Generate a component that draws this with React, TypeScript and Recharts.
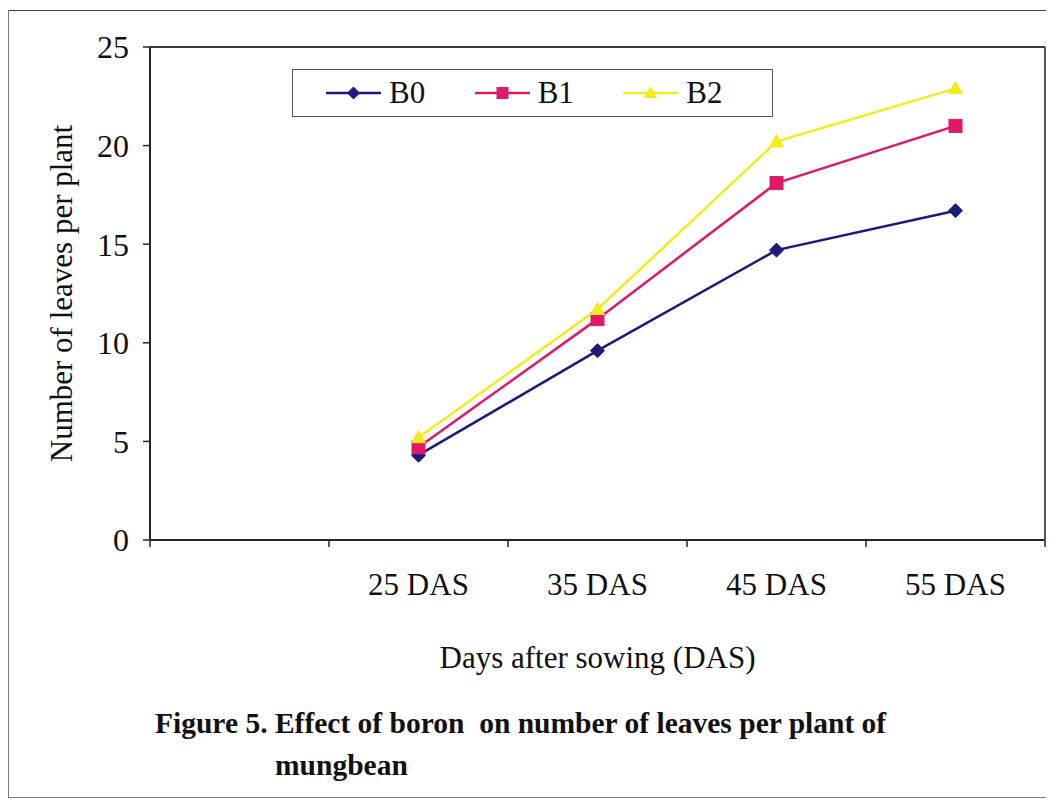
import React from 'react';
import { LineChart, Line, XAxis, YAxis, Legend } from 'recharts';

// leaves per plant for each boron level, by sampling date
const categories = ['', '25 DAS', '35 DAS', '45 DAS', '55 DAS'];
const b0Values = [null, 4.3, 9.6, 14.7, 16.7];
const b1Values = [null, 4.7, 11.2, 18.1, 21.0];
const b2Values = [null, 5.2, 11.7, 20.2, 22.9];
const yTicks = [0, 5, 10, 15, 20, 25];

const series = [
  { key: 'B0', color: '#1c1a7c', shape: 'diamond' },
  { key: 'B1', color: '#e0186a', shape: 'square' },
  { key: 'B2', color: '#f3eb1d', shape: 'triangle' },
];

const data = categories.map((name, i) => ({
  name,
  B0: b0Values[i],
  B1: b1Values[i],
  B2: b2Values[i],
}));

const FONT = "'Liberation Serif', 'Times New Roman', serif";
const AXIS_COLOR = '#2b2226';

const CHART_W = 1040;
const CHART_H = 680;
const MARGIN = { top: 35, right: 3, bottom: 0, left: 0 };
const Y_AXIS_W = 141;
const X_AXIS_H = 151;
const PLOT_W = CHART_W - MARGIN.left - MARGIN.right - Y_AXIS_W - 1;
const BAND = PLOT_W / categories.length;
const TICK_SIZE = 7;
const X_TICK_MARGIN = 26;

function Marker({ shape, color, cx, cy, size = 7 }: any) {
  if (shape === 'diamond') {
    return (
      <path
        d={`M${cx},${cy - size} L${cx + size},${cy} L${cx},${cy + size} L${cx - size},${cy} Z`}
        fill={color}
        stroke={color}
      />
    );
  }
  if (shape === 'square') {
    const s = size - 0.5;
    return <rect x={cx - s} y={cy - s} width={s * 2} height={s * 2} fill={color} stroke={color} />;
  }
  return (
    <path
      d={`M${cx},${cy - size} L${cx + size},${cy + size * 0.75} L${cx - size},${cy + size * 0.75} Z`}
      fill={color}
      stroke={color}
    />
  );
}

function makeDot(shape: string, color: string) {
  return (props: any) => {
    const { cx, cy, index } = props;
    if (cx == null || cy == null) return <g key={`d-${index}`} />;
    return <Marker key={`d-${index}`} shape={shape} color={color} cx={cx} cy={cy} />;
  };
}

// label sits in the middle of the category, tick marks on the boundaries
function CategoryTick(props: any) {
  const { x, y, payload, index } = props;
  const axisY = y - TICK_SIZE - X_TICK_MARGIN;
  const left = x - BAND / 2;
  const last = index === categories.length - 1;
  return (
    <g>
      <line x1={left} y1={axisY} x2={left} y2={axisY + TICK_SIZE} stroke={AXIS_COLOR} strokeWidth={1.5} />
      {last && (
        <line x1={left + BAND} y1={axisY} x2={left + BAND} y2={axisY + TICK_SIZE} stroke={AXIS_COLOR} strokeWidth={1.5} />
      )}
      <text x={x} y={y} dy="0.71em" textAnchor="middle" fontFamily={FONT} fontSize={31} fill="#111">
        {payload.value}
      </text>
    </g>
  );
}

function LegendBox() {
  return (
    <div
      style={{
        boxSizing: 'border-box',
        width: '100%',
        height: '100%',
        border: '1px solid #555',
        background: '#fff',
        display: 'flex',
        alignItems: 'center',
        paddingLeft: 33,
        fontFamily: FONT,
        fontSize: 31,
        color: '#111',
      }}
    >
      {series.map((s) => (
        <div key={s.key} style={{ width: 160, display: 'flex', alignItems: 'center' }}>
          <svg width={55} height={20} style={{ marginRight: 8 }}>
            <line x1={0} y1={10} x2={55} y2={10} stroke={s.color} strokeWidth={2.5} />
            <Marker shape={s.shape} color={s.color} cx={27.5} cy={10} size={6} />
          </svg>
          <span>{s.key}</span>
        </div>
      ))}
    </div>
  );
}

export default function App() {
  return (
    <div
      style={{
        marginTop: 2,
        width: CHART_W,
        height: 786,
        border: '1px solid #7a7a7a',
        borderTopColor: '#444',
        background: '#fff',
        fontFamily: FONT,
      }}
    >
      <LineChart width={CHART_W} height={CHART_H} data={data} margin={MARGIN}>
        <XAxis
          dataKey="name"
          scale="band"
          height={X_AXIS_H}
          tick={<CategoryTick />}
          tickSize={TICK_SIZE}
          tickMargin={X_TICK_MARGIN}
          tickLine={{ stroke: 'transparent' }}
          axisLine={{ stroke: AXIS_COLOR, strokeWidth: 2 }}
          interval={0}
          label={{
            value: 'Days after sowing (DAS)',
            position: 'insideBottom',
            offset: 23,
            fontFamily: FONT,
            fontSize: 31,
            fill: '#111',
          }}
        />
        <XAxis
          xAxisId="top"
          dataKey="name"
          orientation="top"
          height={1}
          tick={false}
          tickLine={false}
          axisLine={{ stroke: '#3a3a3a', strokeWidth: 2 }}
        />
        <YAxis
          domain={[0, 25]}
          ticks={yTicks}
          width={Y_AXIS_W}
          tickSize={TICK_SIZE}
          tickMargin={14}
          tickLine={{ stroke: AXIS_COLOR, strokeWidth: 1.5 }}
          axisLine={{ stroke: AXIS_COLOR, strokeWidth: 2 }}
          tick={{ fontFamily: FONT, fontSize: 32, fill: '#111' }}
          label={{
            value: 'Number of leaves per plant',
            angle: -90,
            position: 'insideLeft',
            offset: 52,
            fontFamily: FONT,
            fontSize: 31,
            fill: '#111',
            style: { textAnchor: 'middle' },
          }}
        />
        <YAxis
          yAxisId="right"
          orientation="right"
          domain={[0, 25]}
          width={1}
          tick={false}
          tickLine={false}
          axisLine={{ stroke: '#555', strokeWidth: 2 }}
        />
        <Legend
          verticalAlign="middle"
          align="center"
          layout="horizontal"
          wrapperStyle={{ left: 283, top: 58, width: 481, height: 48 }}
          content={() => <LegendBox />}
        />
        {series.map((s) => (
          <Line
            key={s.key}
            dataKey={s.key}
            stroke={s.color}
            strokeWidth={2.5}
            dot={makeDot(s.shape, s.color)}
            activeDot={false}
            connectNulls={false}
            isAnimationActive={false}
          />
        ))}
      </LineChart>
      <div style={{ marginTop: 11, paddingLeft: 146, fontSize: 29.5, fontWeight: 'bold', lineHeight: '42px', color: '#111' }}>
        <div style={{ whiteSpace: 'pre' }}>Figure 5. Effect of boron  on number of leaves per plant of</div>
        <div style={{ paddingLeft: 120 }}>mungbean</div>
      </div>
    </div>
  );
}
